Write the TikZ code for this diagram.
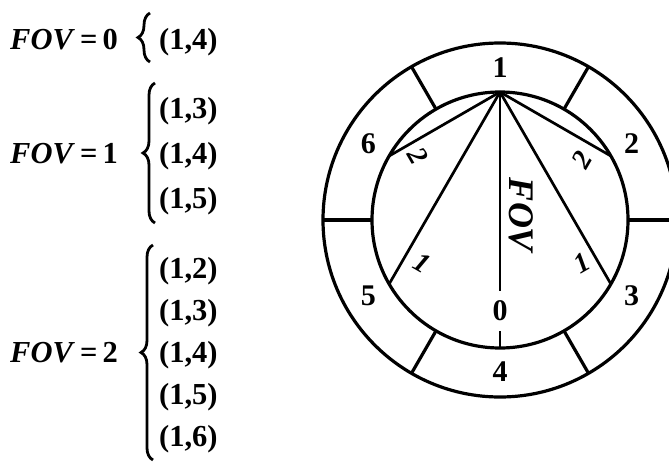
\documentclass[tikz,border=0pt]{standalone}
\usepackage{fontspec}
\setmainfont{Liberation Serif}
\usetikzlibrary{positioning,decorations.pathreplacing}
\tikzset{
  ring/.style={draw, circle, line width=3.2pt, inner sep=0pt, outer sep=0pt},
  divider/.style={line width=3.2pt},
  chord/.style={line width=2.7pt},
  seclabel/.style={font=\fontsize{30}{36}\selectfont\bfseries, inner sep=1pt},
  chordlabel/.style={font=\fontsize{28}{32}\selectfont\bfseries\itshape, inner sep=1pt},
  lhs/.style={font=\fontsize{30.5}{36}\selectfont\bfseries, inner sep=0pt, anchor=base},
  entry/.style={font=\fontsize{30.5}{36}\selectfont\bfseries, inner sep=0pt, anchor=base west},
  setbrace/.style={decorate, decoration={brace, amplitude=12pt}, line width=2.8pt}
}
\newcommand{\fovtext}[1]{\textit{FOV}\,=\,#1}

\begin{document}
\begin{tikzpicture}[x=1pt, y=-1pt]
  \useasboundingbox (0,0) rectangle (669,463);
  % FOV = 0
  \node[lhs] (fov0) at (64,49) {\fovtext{0}};
  \coordinate (b0top) at (150,13);
  \coordinate (b0bot) at (150,62);
  \draw[setbrace] (b0bot) -- (b0top);
  \node[entry] (p04) at (159,49) {(1,4)};
  % FOV = 1
  \node[lhs] (fov1) at (64,163) {\fovtext{1}};
  \coordinate (b1top) at (155,83);
  \coordinate (b1bot) at (155,223);
  \draw[setbrace] (b1bot) -- (b1top);
  \foreach \k/\yy in {3/118,4/163,5/208}
    \node[entry] (p1\k) at (159,\yy) {(1,\k)};
  % FOV = 2
  \node[lhs] (fov2) at (64,362) {\fovtext{2}};
  \coordinate (b2top) at (153,245);
  \coordinate (b2bot) at (153,460);
  \draw[setbrace] (b2bot) -- (b2top);
  \foreach \k/\yy in {2/278,3/320,4/362,5/404,6/446}
    \node[entry] (p2\k) at (159,\yy) {(1,\k)};

  % ring of six cells
  \node[ring, minimum size=256pt] (inner) at (500,220) {};
  \node[ring, minimum size=354pt] (outer) at (500,220) {};
  \foreach \a in {0,60,...,300}
    \draw[divider] (inner.\a) -- (outer.\a);
  \foreach \a/\t in {90/1,30/2,330/3,270/4,210/5,150/6}
    \node[seclabel] (s\t) at ([shift={(\a:152pt)}]inner.center) {\t};

  % chords from cell 1
  \foreach \a in {150,30,210,330}
    \draw[chord] (inner.90) -- (inner.\a);
  \draw[chord] (inner.90) -- node[seclabel, pos=0.855, fill=white, inner ysep=10pt] (zero) {0} (inner.270);
  \node[font=\fontsize{36}{42}\selectfont\bfseries\itshape, rotate=-90] (fovlab) at (521,215) {FOV};
  \node[chordlabel, rotate=-60] (c6) at (418,156) {2};
  \node[chordlabel, rotate=60] (c2) at (582,160) {2};
  \node[chordlabel, rotate=-30] (c5) at (422,263) {1};
  \node[chordlabel, rotate=30] (c3) at (582,263) {1};
\end{tikzpicture}
\end{document}
